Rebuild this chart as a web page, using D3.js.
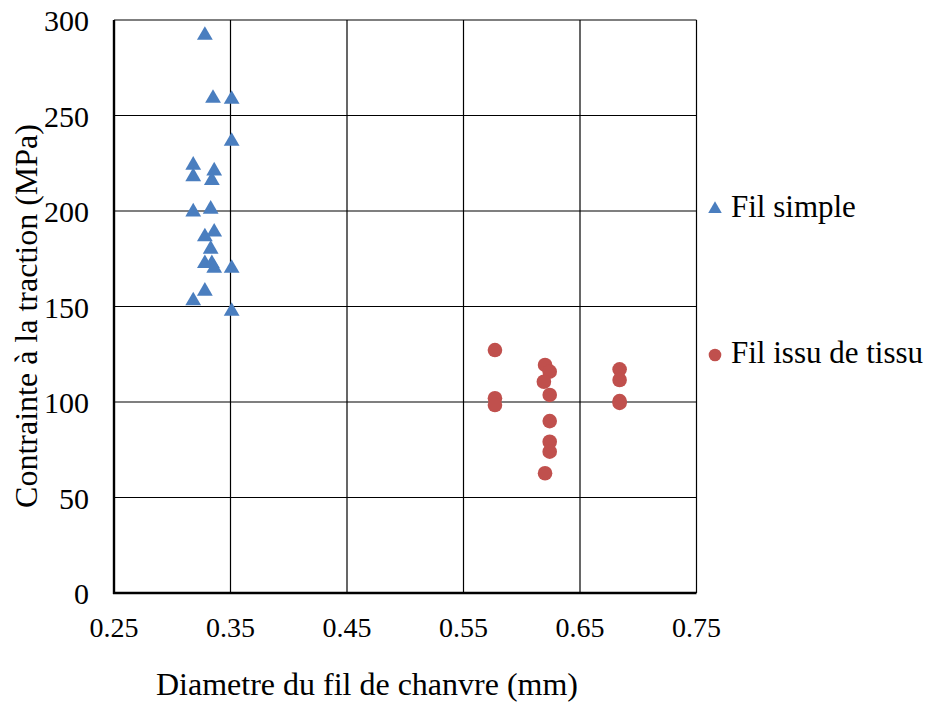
<!DOCTYPE html>
<html><head><meta charset="utf-8">
<script src="https://cdn.jsdelivr.net/npm/d3@7"></script>
<style>body{margin:0;background:#fff}svg text{font-family:"Liberation Serif","Times New Roman",serif;fill:#000}</style>
</head><body><svg id="c" width="933" height="703"></svg>
<script>
const xTicks = [0.25,0.35,0.45,0.55,0.65,0.75];
const yTicks = [0,50,100,150,200,250,300];
const simpleX = [0.328,0.335,0.351,0.351,0.318,0.318,0.336,0.334,0.318,0.333,0.336,0.328,0.333,0.328,0.334,0.336,0.351,0.328,0.318,0.351];
const simpleY = [292,259,258.5,236.5,224,218,221,216,199.5,201,189,186.5,180,172.5,172.5,170,170,158,153,147.5];
const tissuX = [0.577,0.577,0.577,0.620,0.624,0.619,0.624,0.624,0.624,0.624,0.620,0.684,0.684,0.684,0.684];
const tissuY = [127.2,102,98.4,119.4,115.9,110.6,103.7,90,79.2,74,62.7,117.1,111.5,100.5,99.5];
const seriesNames = ["Fil simple","Fil issu de tissu"];
const colors = ["#4A7EBF","#C0504D"];

const svg = d3.select("#c");
const x = d3.scaleLinear().domain([0.25,0.75]).range([114,696.5]);
const y = d3.scaleLinear().domain([0,300]).range([593,20]);

// grid
svg.append("g").selectAll("line").data(xTicks.slice(1)).join("line")
  .attr("x1",d=>x(d)).attr("x2",d=>x(d)).attr("y1",y(0)).attr("y2",y(300))
  .attr("stroke","#000").attr("stroke-width",1.2);
svg.append("g").selectAll("line").data(yTicks.slice(1)).join("line")
  .attr("x1",x(0.25)).attr("x2",x(0.75)).attr("y1",d=>y(d)).attr("y2",d=>y(d))
  .attr("stroke","#000").attr("stroke-width",1.2);
// axes lines
svg.append("line").attr("x1",x(0.25)).attr("x2",x(0.25)).attr("y1",y(0)+1).attr("y2",y(300)).attr("stroke","#000").attr("stroke-width",2.4);
svg.append("line").attr("x1",x(0.25)-1).attr("x2",x(0.75)).attr("y1",y(0)).attr("y2",y(0)).attr("stroke","#000").attr("stroke-width",2.4);

// tick labels
svg.append("g").selectAll("text").data(xTicks).join("text")
  .attr("x",d=>x(d)).attr("y",637).attr("text-anchor","middle").attr("font-size",28)
  .text(d=>d.toFixed(2));
svg.append("g").selectAll("text").data(yTicks).join("text")
  .attr("x",89).attr("y",d=>y(d)+11).attr("text-anchor","end").attr("font-size",30)
  .text(d=>d);

// axis titles
svg.append("text").attr("x",367).attr("y",695).attr("text-anchor","middle").attr("font-size",32)
  .text("Diametre du fil de chanvre (mm)");
svg.append("text").attr("transform","translate(37,316) rotate(-90)").attr("text-anchor","middle").attr("font-size",32)
  .text("Contrainte à la traction (MPa)");

// markers
const tri = d3.symbol().type(d3.symbolTriangle).size(108);
svg.append("g").selectAll("path").data(simpleX.map((v,i)=>[v,simpleY[i]])).join("path")
  .attr("d",tri).attr("transform",d=>`translate(${x(d[0])},${y(d[1])})`).attr("fill",colors[0]);
svg.append("g").selectAll("circle").data(tissuX.map((v,i)=>[v,tissuY[i]])).join("circle")
  .attr("cx",d=>x(d[0])).attr("cy",d=>y(d[1])).attr("r",7.3).attr("fill",colors[1]);

// legend
const tri2 = d3.symbol().type(d3.symbolTriangle).size(80);
svg.append("path").attr("d",tri2).attr("transform","translate(715,209)").attr("fill",colors[0]);
svg.append("text").attr("x",731).attr("y",217).attr("font-size",31).text(seriesNames[0]);
svg.append("circle").attr("cx",715).attr("cy",355).attr("r",6.3).attr("fill",colors[1]);
svg.append("text").attr("x",731).attr("y",363).attr("font-size",31).text(seriesNames[1]);
</script></body></html>
